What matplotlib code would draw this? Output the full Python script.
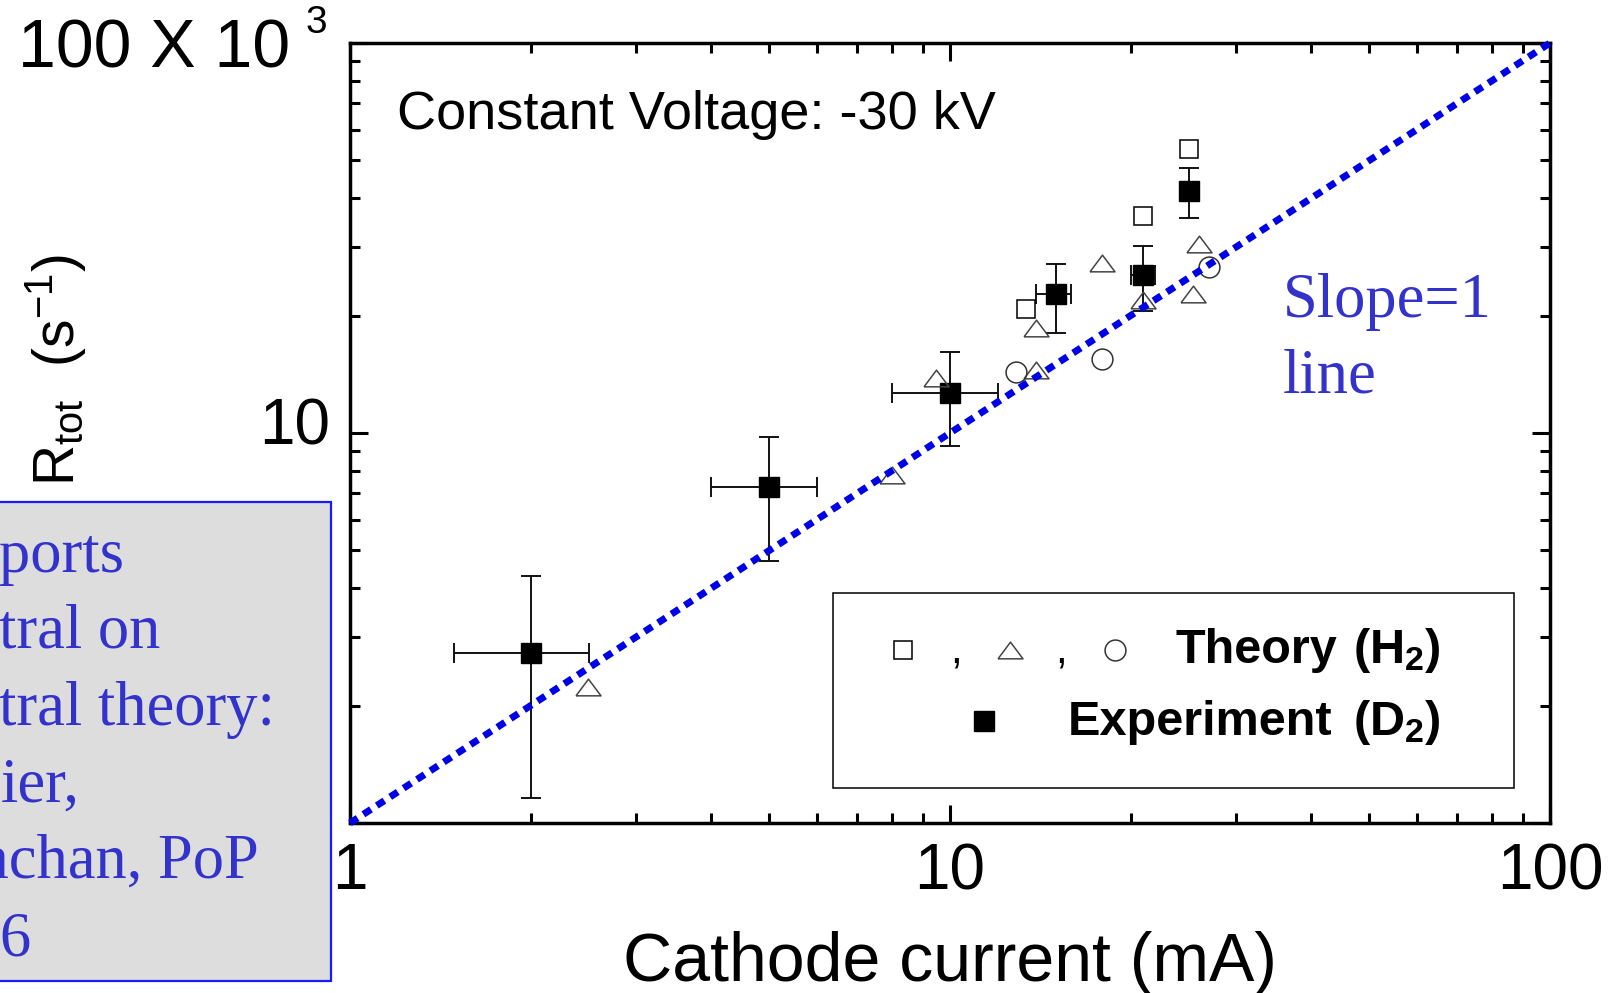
import numpy as np
import matplotlib
matplotlib.use('Agg')
import matplotlib.pyplot as plt
from matplotlib.patches import Rectangle
from matplotlib.transforms import ScaledTranslation
from matplotlib.ticker import LogLocator, NullFormatter

plt.rcParams['font.family'] = ['Liberation Sans', 'DejaVu Sans']
plt.rcParams['mathtext.fontset'] = 'custom'
plt.rcParams['mathtext.rm'] = 'Liberation Sans'
plt.rcParams['mathtext.it'] = 'Liberation Sans:italic'
plt.rcParams['mathtext.bf'] = 'Liberation Sans:bold'

# experiment (D2), with error bar ends
exp_x = [2.0, 5.0, 10.0, 15.0, 21.0, 25.0]
exp_y = [2.73, 7.27, 12.7, 22.7, 25.4, 41.7]
exp_y_lo = [1.16, 4.69, 9.26, 18.1, 20.6, 35.6]
exp_y_hi = [4.30, 9.77, 16.1, 27.1, 30.2, 47.9]
exp_x_lo = [1.49, 4.0, 8.0, 13.9, 20.0, 24.5]
exp_x_hi = [2.50, 6.0, 12.0, 15.9, 22.0, 25.5]

# theory (H2), three marker sets
sq_x = [13.4, 21.0, 25.0]
sq_y = [20.8, 36.0, 53.5]
tri_x = [2.49, 8.0, 9.46, 13.9, 13.9, 17.9, 21.0, 25.4, 26.0]
tri_y = [2.23, 7.8, 13.8, 14.5, 18.6, 27.3, 21.9, 22.7, 30.5]
circ_x = [12.9, 17.9, 27.0]
circ_y = [14.3, 15.5, 26.6]

# slope = 1 reference line
slope_x = [1, 100]
slope_y = [1, 100]

x_ticks = [1, 10, 100]
x_ticklabels = ['1', '10', '100']
y_ticks = [1, 10, 100]
y_ticklabels = ['1', '10', '']

box_lines = ['ports', 'tral on', 'tral theory:', 'ier,', 'achan, PoP', '6']

W, H = 1616, 993
fig = plt.figure(figsize=(W / 100, H / 100), dpi=100)
ax = fig.add_axes([350 / W, 1 - 823 / H, 1200 / W, 780 / H])

tri = [(-1.2, -0.8), (1.2, -0.8), (0, 0.8), (-1.2, -0.8)]
blue_txt = '#3333cc'

ex = np.array(exp_x)
ey = np.array(exp_y)
ax.errorbar(ex, ey,
            xerr=[ex - np.array(exp_x_lo), np.array(exp_x_hi) - ex],
            yerr=[ey - np.array(exp_y_lo), np.array(exp_y_hi) - ey],
            fmt='none', ecolor='#111111', elinewidth=1.4, capsize=7,
            capthick=1.4, zorder=3)
ax.plot(ex, ey, 's', ms=14.5, color='black', zorder=4)
ax.plot(sq_x, sq_y, 's', ms=13, mfc='none', mec='black', mew=1.1, zorder=4)
ax.plot(tri_x, tri_y, linestyle='none', marker=tri, ms=18, mfc='none',
        mec='#444444', mew=1.1, zorder=4)
ax.plot(circ_x, circ_y, 'o', ms=15, mfc='none', mec='#333333', mew=1.1,
        zorder=4)
ax.plot(slope_x, slope_y, color='#0000e6', lw=5, linestyle=(0, (1.3, 1.0)),
        dash_capstyle='butt', clip_on=False, zorder=6)

ax.set_xscale('log')
ax.set_yscale('log')
ax.set_xlim(1, 100)
ax.set_ylim(1, 100)
ax.set_xticks(x_ticks)
ax.set_xticklabels(x_ticklabels)
ax.set_yticks(y_ticks)
ax.set_yticklabels(y_ticklabels)
for axis in (ax.xaxis, ax.yaxis):
    axis.set_minor_locator(LogLocator(base=10, subs=np.arange(2, 10)))
    axis.set_minor_formatter(NullFormatter())
ax.tick_params(which='both', direction='in', top=True, right=True, width=2.2)
ax.tick_params(which='major', length=13, labelsize=46, pad=14)
ax.tick_params(which='minor', length=7)
for sp in ax.spines.values():
    sp.set_linewidth(2.5)

off = ScaledTranslation(0, 12 / 100, fig.dpi_scale_trans)
for lab in ax.get_yticklabels():
    lab.set_transform(lab.get_transform() + off)

# top y label, written as in the original
fig.text(18 / W, 1 - 67 / H, '100 X 10', fontsize=49, va='baseline')
fig.text(306 / W, 1 - 33 / H, '3', fontsize=28, va='baseline')

fig.text(950 / W, 1 - 981 / H, 'Cathode current (mA)', fontsize=49,
         ha='center', va='baseline')
fig.text(55 / W, 1 - 370 / H, r'R$_{\mathrm{tot}}$  (s$^{\mathrm{-1}}$)',
         fontsize=41, rotation=90, ha='center', va='center')

ax.text(0.039, 0.8897, 'Constant Voltage: -30 kV', transform=ax.transAxes,
        fontsize=39, va='baseline')

ax.text(0.7775, 0.6487, 'Slope=1', transform=ax.transAxes, fontsize=45,
        family='Liberation Serif', color=blue_txt, va='baseline')
ax.text(0.7775, 0.5513, 'line', transform=ax.transAxes, fontsize=45,
        family='Liberation Serif', color=blue_txt, va='baseline')

# legend drawn by hand
ax.add_patch(Rectangle((0.4025, 0.045), 0.5675, 0.25, transform=ax.transAxes,
                       fill=False, ec='black', lw=1.1, zorder=5))
ax.plot([0.4608], [0.2218], 's', ms=12.5, mfc='none', mec='black', mew=1.1,
        transform=ax.transAxes, zorder=6)
ax.plot([0.55], [0.2218], linestyle='none', marker=tri, ms=18, mfc='none',
        mec='#444444', mew=1.1, transform=ax.transAxes, zorder=6)
ax.plot([0.6375], [0.2218], 'o', ms=15, mfc='none', mec='#333333', mew=1.1,
        transform=ax.transAxes, zorder=6)
ax.text(0.505, 0.2064, ',', transform=ax.transAxes, fontsize=30, ha='center',
        va='baseline')
ax.text(0.5925, 0.2064, ',', transform=ax.transAxes, fontsize=30, ha='center',
        va='baseline')
ax.text(0.6875, 0.2051, 'Theory', transform=ax.transAxes,
        fontsize=35, fontweight='bold', va='baseline')
ax.text(0.8358, 0.2051, r'($\mathbf{H_2}$)', transform=ax.transAxes,
        fontsize=35, fontweight='bold', va='baseline')
ax.plot([0.5283], [0.1308], 's', ms=15, color='black',
        transform=ax.transAxes, zorder=6)
ax.text(0.5983, 0.1128, 'Experiment', transform=ax.transAxes,
        fontsize=35, fontweight='bold', va='baseline')
ax.text(0.8358, 0.1128, r'($\mathbf{D_2}$)', transform=ax.transAxes,
        fontsize=35, fontweight='bold', va='baseline')

# grey note box, cut off at the left edge
fig.add_artist(Rectangle((-0.01, 1 - 981 / H), 0.01 + 331 / W, (981 - 502) / H,
                         transform=fig.transFigure, facecolor='#dddddd',
                         edgecolor='#1a1aff', lw=1.6, zorder=5))
box_x = [-1, -1, -1, 1, -19, -1]
box_base = [572, 648, 725, 802, 878, 955]
for t, bx, by in zip(box_lines, box_x, box_base):
    fig.text(bx / W, 1 - by / H, t, fontsize=45, family='Liberation Serif',
             color=blue_txt, va='baseline', zorder=6)

fig.savefig('out.png', dpi=100)
